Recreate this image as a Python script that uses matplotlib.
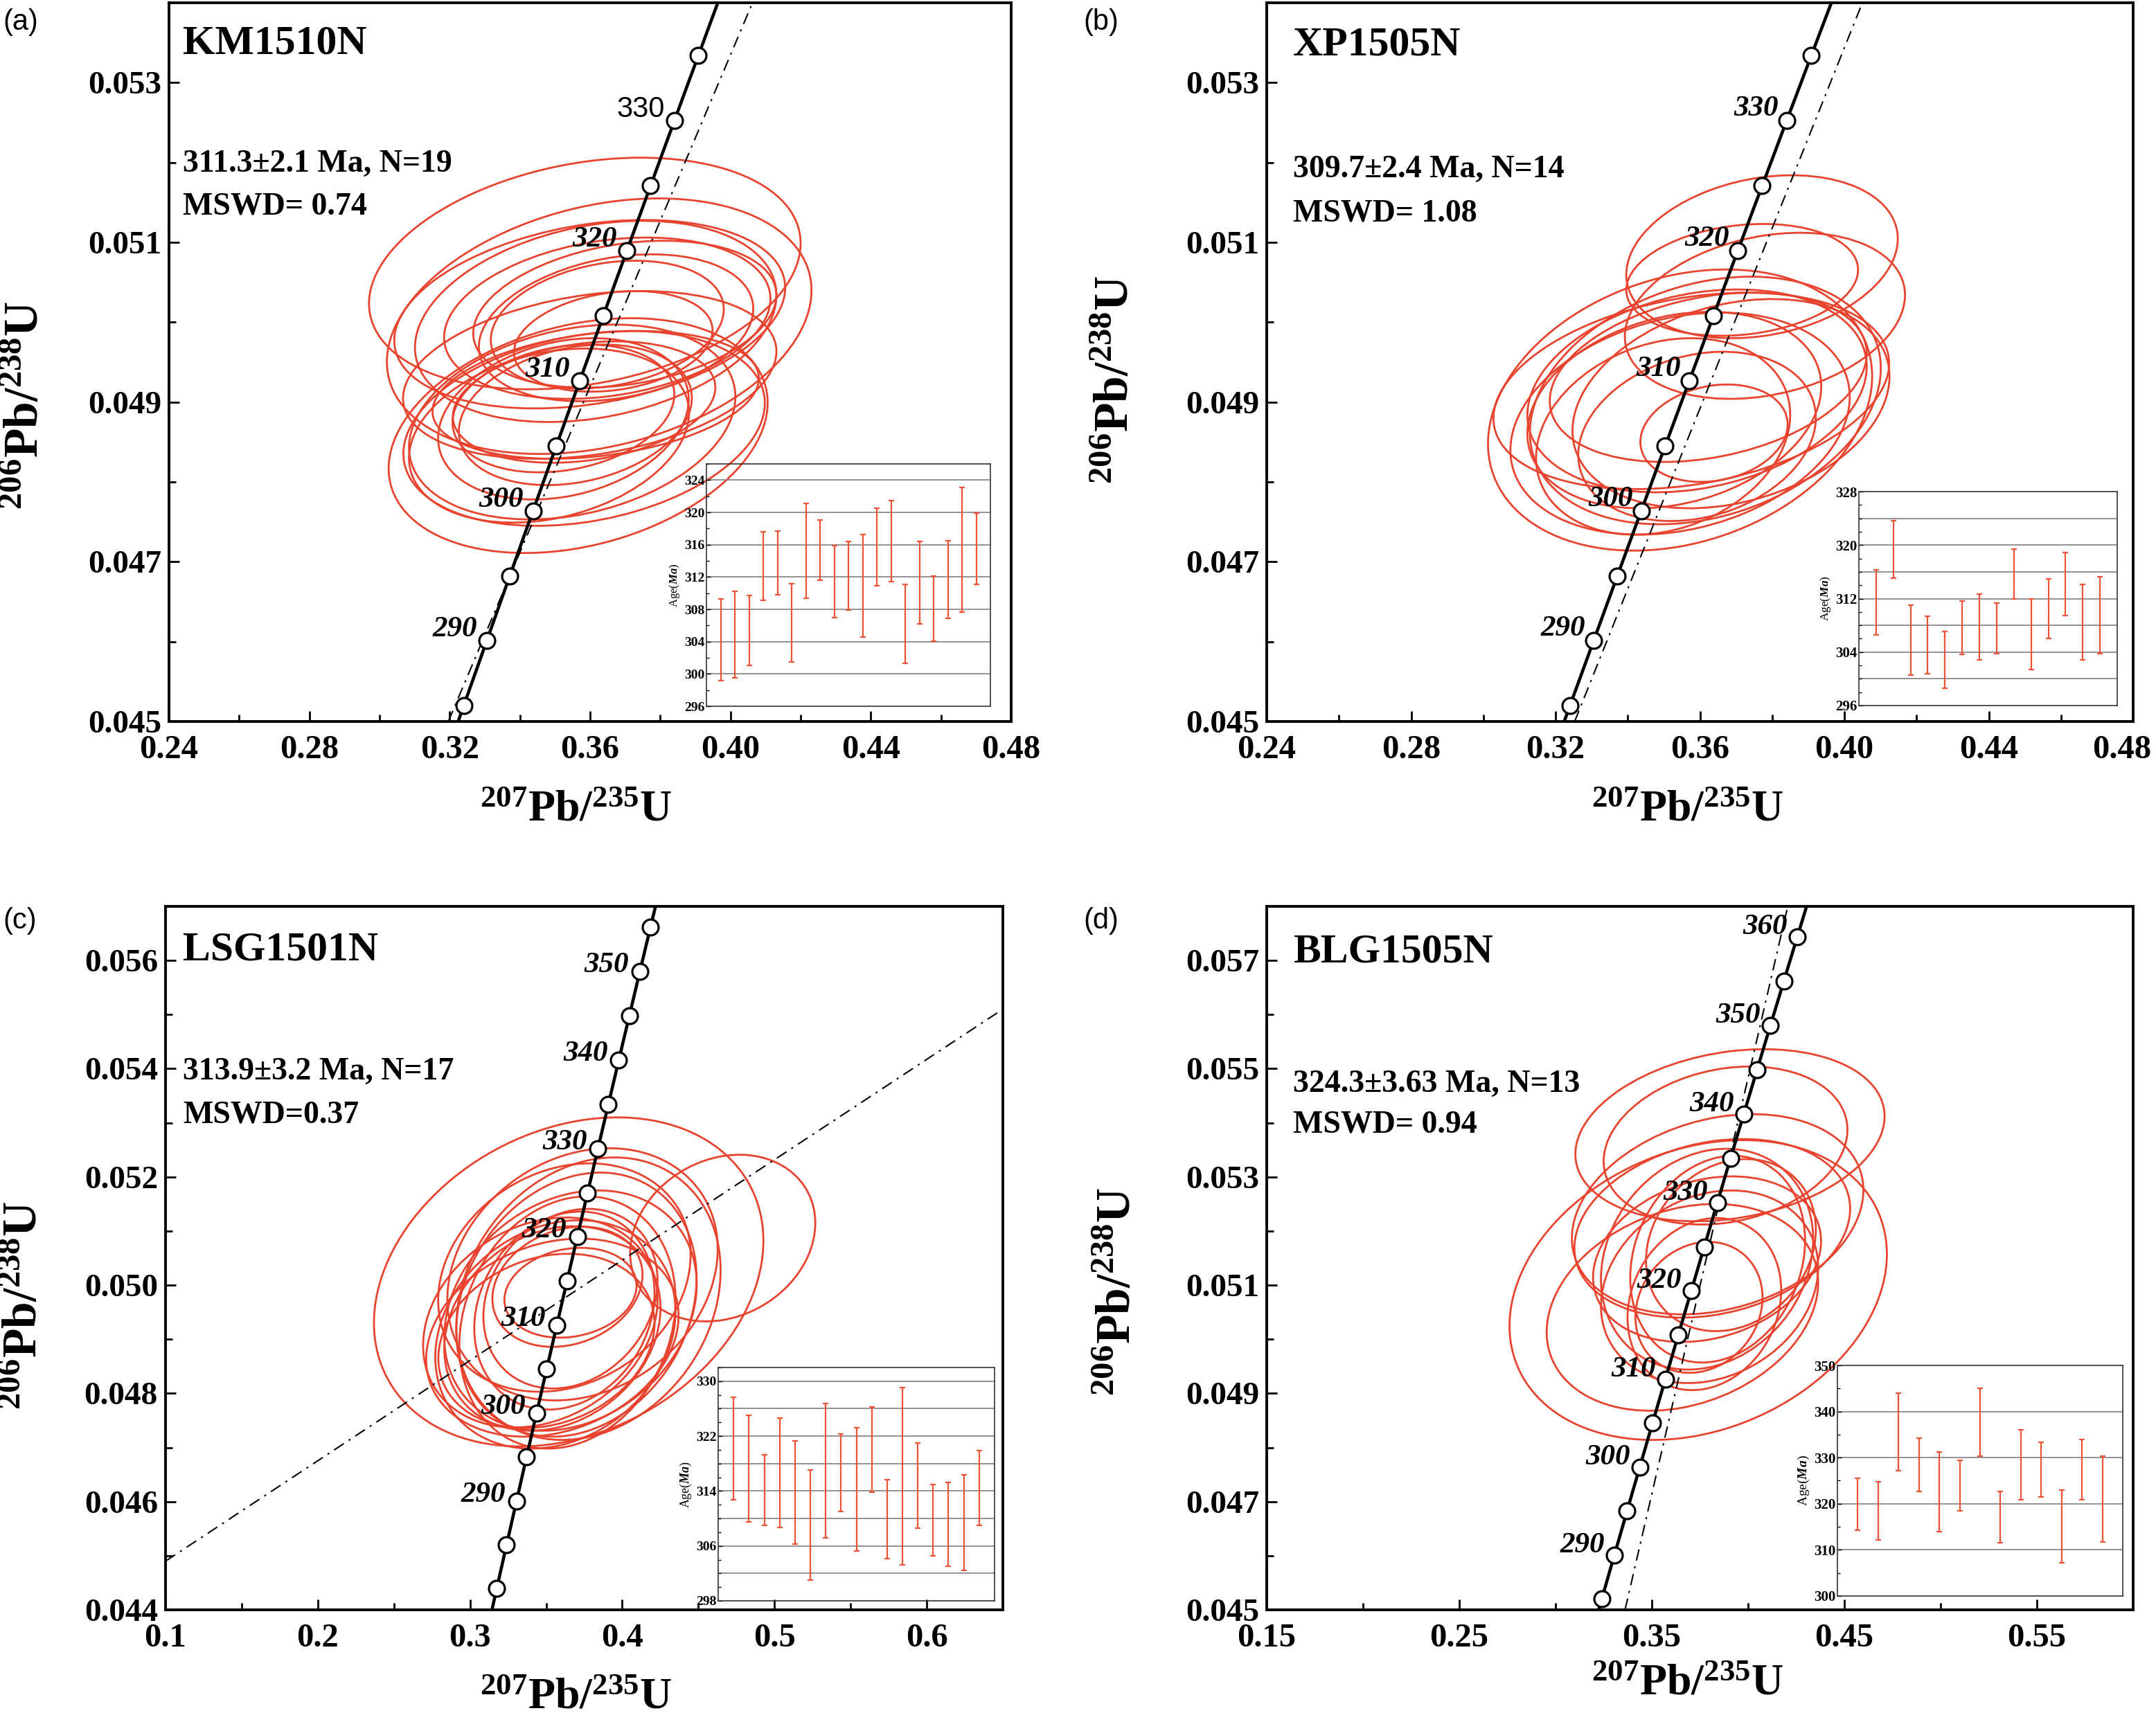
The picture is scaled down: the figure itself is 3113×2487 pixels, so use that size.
import numpy as np
import matplotlib
matplotlib.use('Agg')
import matplotlib.pyplot as plt
from matplotlib.patches import Circle
from matplotlib.transforms import Affine2D, ScaledTranslation
from matplotlib.ticker import MultipleLocator, FixedLocator, FormatStrFormatter, NullLocator

plt.rcParams['font.family'] = ['Liberation Serif', 'DejaVu Serif']
plt.rcParams['font.weight'] = 'bold'
plt.rcParams['mathtext.fontset'] = 'custom'
plt.rcParams['mathtext.rm'] = 'Liberation Serif:bold'
plt.rcParams['mathtext.bf'] = 'Liberation Serif:bold'
plt.rcParams['mathtext.it'] = 'Liberation Serif:italic:bold'

# ---------------- data ----------------
L238 = 1.55125e-10
L235 = 9.8485e-10
marker_ages = list(range(270, 375, 5))

names = ['KM1510N', 'XP1505N', 'LSG1501N', 'BLG1505N']
age_texts = ['311.3±2.1 Ma, N=19', '309.7±2.4 Ma, N=14', '313.9±3.2 Ma, N=17', '324.3±3.63 Ma, N=13']
mswd_texts = ['MSWD= 0.74', 'MSWD= 1.08', 'MSWD=0.37', 'MSWD= 0.94']
panel_tags = ['(a)', '(b)', '(c)', '(d)']

# axis ticks
ab_xticks = [0.24, 0.28, 0.32, 0.36, 0.40, 0.44, 0.48]
ab_yticks = [0.045, 0.047, 0.049, 0.051, 0.053]
c_xticks = [0.1, 0.2, 0.3, 0.4, 0.5, 0.6]
c_yticks = [0.044, 0.046, 0.048, 0.050, 0.052, 0.054, 0.056]
d_xticks = [0.15, 0.25, 0.35, 0.45, 0.55]
d_yticks = [0.045, 0.047, 0.049, 0.051, 0.053, 0.055, 0.057]

# concordia labels
a_lab = [290, 300, 310, 320, 330]
b_lab = [290, 300, 310, 320, 330]
c_lab = [290, 300, 310, 320, 330, 340, 350]
d_lab = [290, 300, 310, 320, 330, 340, 350, 360]
a_plain = [330]

# discordia (dash-dot) end points
a_dd_x = [0.3196, 0.4063]; a_dd_y = [0.045, 0.054]
b_dd_x = [0.3253, 0.4050]; b_dd_y = [0.045, 0.054]
c_dd_x = [0.10, 0.65];     c_dd_y = [0.0449, 0.0551]
d_dd_x = [0.3361, 0.4206]; d_dd_y = [0.045, 0.058]

# error ellipses: centre, half extents, correlation
a_cx = [0.3585, 0.3626, 0.3616, 0.3649, 0.3674, 0.3649, 0.3666, 0.3599, 0.3699, 0.3566,
        0.3583, 0.3549, 0.3524, 0.3558, 0.3524, 0.3616, 0.3583, 0.3483, 0.3599]
a_cy = [0.05061, 0.04995, 0.05001, 0.05005, 0.04993, 0.04997, 0.04976, 0.05010, 0.05010, 0.04858,
        0.04867, 0.04875, 0.04879, 0.04884, 0.04892, 0.04909, 0.04900, 0.04858, 0.04934]
a_sx = [0.0615, 0.0605, 0.0515, 0.0465, 0.0391, 0.0332, 0.0283, 0.0557, 0.0432, 0.0540,
        0.0515, 0.0465, 0.0357, 0.0332, 0.0316, 0.0465, 0.0374, 0.0399, 0.0532]
a_sy = [0.00145, 0.00160, 0.00126, 0.00101, 0.00092, 0.00080, 0.00063, 0.00118, 0.00092, 0.00147,
        0.00122, 0.00122, 0.00101, 0.00088, 0.00080, 0.00080, 0.00076, 0.00109, 0.00105]
a_rho = [0.26, 0.28, 0.26, 0.24, 0.26, 0.24, 0.22, 0.28, 0.26, 0.28,
         0.26, 0.26, 0.24, 0.24, 0.22, 0.26, 0.24, 0.26, 0.28]

b_cx = [0.3772, 0.3717, 0.3780, 0.3545, 0.3615, 0.3592, 0.3623, 0.3529, 0.3686, 0.3592,
        0.3639, 0.3545, 0.3576, 0.3498]
b_cy = [0.05082, 0.05053, 0.05008, 0.04890, 0.04902, 0.04914, 0.04931, 0.04890, 0.04898, 0.04857,
        0.04861, 0.04873, 0.04914, 0.04857]
b_sx = [0.0376, 0.0321, 0.0388, 0.0532, 0.0486, 0.0470, 0.0439, 0.0407, 0.0439, 0.0329,
        0.0204, 0.0470, 0.0548, 0.0352]
b_sy = [0.00102, 0.00070, 0.00104, 0.00176, 0.00155, 0.00127, 0.00106, 0.00123, 0.00131, 0.00106,
        0.00061, 0.00139, 0.00123, 0.00123]
b_rho = [0.22, 0.18, 0.25, 0.24, 0.26, 0.24, 0.28, 0.24, 0.26, 0.22, 0.18, 0.24, 0.28, 0.22]

c_cx = [0.3648, 0.4660, 0.3778, 0.3699, 0.3660, 0.3640, 0.3561, 0.3541, 0.3620, 0.3660,
        0.3640, 0.3660, 0.3541, 0.3502, 0.3620, 0.3739, 0.3462]
c_cy = [0.05006, 0.05087, 0.04975, 0.04964, 0.04953, 0.04931, 0.04909, 0.04920, 0.04953, 0.04975,
        0.04997, 0.04986, 0.04903, 0.04897, 0.05014, 0.05020, 0.04931]
c_sx = [0.1279, 0.0608, 0.0868, 0.0789, 0.0829, 0.0710, 0.0789, 0.0710, 0.0592, 0.0572,
        0.0493, 0.0434, 0.0829, 0.0710, 0.0829, 0.0888, 0.0770]
c_sy = [0.00304, 0.00154, 0.00261, 0.00244, 0.00222, 0.00233, 0.00211, 0.00189, 0.00183, 0.00166,
        0.00111, 0.00083, 0.00183, 0.00161, 0.00211, 0.00233, 0.00194]
c_rho = [0.25, 0.18, 0.20, 0.20, 0.22, 0.18, 0.20, 0.20, 0.18, 0.20, 0.20, 0.16, 0.22, 0.20, 0.20, 0.20, 0.22]

d_cx = [0.3906, 0.3883, 0.3842, 0.3741, 0.3659, 0.3814, 0.3787, 0.3842, 0.3773, 0.3745,
        0.3800, 0.3911, 0.3787]
d_cy = [0.05377, 0.05358, 0.05231, 0.05091, 0.05059, 0.05205, 0.05148, 0.05148, 0.05065, 0.05059,
        0.05097, 0.05174, 0.05148]
d_sx = [0.0803, 0.0633, 0.0757, 0.0980, 0.0705, 0.0716, 0.0551, 0.0454, 0.0399, 0.0330,
        0.0564, 0.0441, 0.0592]
d_sy = [0.00159, 0.00146, 0.00185, 0.00277, 0.00191, 0.00165, 0.00204, 0.00191, 0.00159, 0.00121,
        0.00178, 0.00159, 0.00153]
d_rho = [0.22, 0.20, 0.24, 0.24, 0.24, 0.22, 0.18, 0.18, 0.16, 0.15, 0.20, 0.18, 0.22]

# weighted-mean inset: upper / lower ages (Ma)
a_hi = [309.3, 310.2, 309.7, 317.6, 317.7, 311.2, 321.1, 319.1, 315.9, 316.4,
        317.3, 320.5, 321.5, 311.1, 316.4, 312.1, 316.5, 323.1, 319.9]
a_lo = [299.2, 299.5, 301.1, 309.1, 309.8, 301.5, 309.4, 311.6, 307.0, 307.9,
        304.6, 310.9, 311.4, 301.3, 306.2, 304.1, 306.9, 307.7, 311.1]
b_hi = [316.3, 323.7, 311.0, 309.4, 307.1, 311.6, 312.7, 311.3, 319.4, 312.0, 315.0, 318.9, 314.1, 315.3]
b_lo = [306.6, 315.1, 300.6, 300.8, 298.6, 303.7, 302.8, 303.8, 311.9, 301.4, 306.0, 309.5, 302.8, 303.8]
c_hi = [327.7, 325.0, 319.3, 324.6, 321.3, 317.1, 326.8, 322.3, 323.2, 326.2,
        315.7, 329.1, 321.0, 314.9, 315.3, 316.4, 319.9]
c_lo = [312.7, 309.5, 309.0, 308.7, 306.3, 301.0, 307.2, 311.0, 305.3, 313.8,
        304.2, 303.2, 308.6, 304.6, 303.0, 302.4, 309.0]
d_hi = [325.5, 324.7, 344.0, 334.3, 331.3, 329.5, 345.0, 322.6, 336.1, 333.3, 322.9, 334.0, 330.3]
d_lo = [314.2, 312.2, 327.2, 322.7, 313.9, 318.4, 330.3, 311.5, 320.8, 321.4, 307.2, 320.8, 311.7]

# ---------------- figure ----------------
W, H = 3113, 2487
DPI = 100
fig = plt.figure(figsize=(W / DPI, H / DPI), dpi=DPI)
fig.patch.set_facecolor('white')
RED = '#e8432e'
RED2 = '#ee5236'


def rect(l, r, t, b):
    return [l / W, 1 - b / H, (r - l) / W, (b - t) / H]


def fxy(x, y):
    return x / W, 1 - y / H


def conc(ages):
    t = np.asarray(ages, float) * 1e6
    return np.exp(L235 * t) - 1, np.exp(L238 * t) - 1


def main_panel(box, xlim, ylim, xticks, xmin, yticks, ymin, xfmt, cx, cy, sx, sy, rho,
               ddx, ddy, labs, lab_off, plain=()):
    ax = fig.add_axes(rect(*box))
    for x0, y0, a, b, r in zip(cx, cy, sx, sy, rho):
        m = np.array([[a, 0, x0], [b * r, b * np.sqrt(1 - r * r), y0], [0, 0, 1]])
        tr = Affine2D(m) + ax.transData
        ax.add_patch(Circle((0, 0), 1, transform=tr, fill=False, ec=RED, lw=2.0, zorder=2))
    ax.plot(ddx, ddy, color='black', lw=1.5, dashes=(8, 4, 1.5, 4), zorder=3)
    tt = np.linspace(240, 400, 400)
    px, py = conc(tt)
    ax.plot(px, py, color='black', lw=3.3, zorder=4, solid_capstyle='butt')
    mx, my = conc(marker_ages)
    ax.plot(mx, my, 'o', ms=16.5, mfc='white', mec='black', mew=2.3, zorder=5)
    lx, ly = conc(labs)
    for age, x, y in zip(labs, lx, ly):
        if age in plain:
            kw = dict(fontfamily='Liberation Sans', fontweight='normal', fontstyle='normal', fontsize=30)
        else:
            kw = dict(fontweight='bold', fontstyle='italic', fontsize=31)
        ax.annotate(str(age), xy=(x, y), xytext=lab_off, textcoords='offset pixels',
                    ha='right', va='center', zorder=6, **kw)
    ax.set_xlim(*xlim)
    ax.set_ylim(*ylim)
    ax.xaxis.set_major_locator(FixedLocator(xticks))
    ax.xaxis.set_minor_locator(MultipleLocator(xmin))
    ax.yaxis.set_major_locator(FixedLocator(yticks))
    ax.yaxis.set_minor_locator(MultipleLocator(ymin))
    ax.xaxis.set_major_formatter(FormatStrFormatter(xfmt))
    ax.yaxis.set_major_formatter(FormatStrFormatter('%.3f'))
    ax.tick_params(which='both', direction='in', width=2, top=False, right=False)
    ax.tick_params(which='major', length=11)
    ax.tick_params(which='minor', length=7)
    ax.tick_params(axis='x', labelsize=35, pad=14)
    ax.tick_params(axis='y', labelsize=34, pad=8)
    for s in ax.spines.values():
        s.set_linewidth(2.8)
    return ax


def inset(box, hi, lo, ylim, major, grid, minor, labsize, ylsize):
    ins = fig.add_axes(rect(*box))
    ins.set_facecolor('none')
    hi = np.asarray(hi); lo = np.asarray(lo)
    x = np.arange(1, len(hi) + 1)
    for g in grid:
        ins.axhline(g, color='#8a8a8a', lw=1.3, zorder=1)
    ins.errorbar(x, (hi + lo) / 2, yerr=(hi - lo) / 2, fmt='none', ecolor=RED2,
                 elinewidth=1.6, capsize=3, capthick=1.6, zorder=3)
    ins.set_xlim(0, len(hi) + 1)
    ins.set_ylim(*ylim)
    ins.xaxis.set_major_locator(NullLocator())
    ins.yaxis.set_major_locator(FixedLocator(major))
    ins.yaxis.set_minor_locator(MultipleLocator(minor))
    ins.tick_params(axis='y', which='both', direction='in', labelsize=labsize, pad=2, width=1)
    ins.tick_params(axis='y', which='major', length=4)
    ins.tick_params(axis='y', which='minor', length=3)
    for s in ins.spines.values():
        s.set_linewidth(1.2)
        s.set_color('#333333')
    ins.set_ylabel(r'Age($\mathit{Ma}$)', fontsize=ylsize, labelpad=3)
    return ins


axA = main_panel((244, 1460, 4, 1042), (0.24, 0.48), (0.045, 0.054), ab_xticks, 0.02, ab_yticks, 0.001, '%.2f',
                 a_cx, a_cy, a_sx, a_sy, a_rho, a_dd_x, a_dd_y, a_lab, (-14, 16), a_plain)
axB = main_panel((1829, 3080, 4, 1042), (0.24, 0.48), (0.045, 0.054), ab_xticks, 0.02, ab_yticks, 0.001, '%.2f',
                 b_cx, b_cy, b_sx, b_sy, b_rho, b_dd_x, b_dd_y, b_lab, (-12, 17))
axC = main_panel((239, 1448, 1309, 2325), (0.10, 0.65), (0.044, 0.057), c_xticks, 0.05, c_yticks, 0.001, '%.1f',
                 c_cx, c_cy, c_sx, c_sy, c_rho, c_dd_x, c_dd_y, c_lab, (-16, 9))
axD = main_panel((1829, 3080, 1309, 2325), (0.15, 0.60), (0.045, 0.058), d_xticks, 0.05, d_yticks, 0.001, '%.2f',
                 d_cx, d_cy, d_sx, d_sy, d_rho, d_dd_x, d_dd_y, d_lab, (-14, 14))

# keep the last x tick label of panel (b) inside the figure, as in the original
fig.canvas.draw()
lbls = axB.get_xticklabels()
lbls[-1].set_transform(lbls[-1].get_transform() + ScaledTranslation(-16 / DPI, 0, fig.dpi_scale_trans))

inset((1020, 1430, 670, 1020), a_hi, a_lo, (296, 326), np.arange(296, 326, 4), np.arange(300, 326, 4), 2, 14, 12)
inset((2684, 3057, 710, 1019), b_hi, b_lo, (296, 328), np.arange(296, 329, 8), np.arange(300, 328, 4), 2, 15, 12.5)
inset((1037, 1436, 1975, 2312), c_hi, c_lo, (298, 332), np.arange(298, 331, 8), np.arange(302, 332, 4), 2, 14, 13)
inset((2653, 3065, 1972, 2305), d_hi, d_lo, (300, 350), np.arange(300, 351, 10), np.arange(310, 350, 10), 5, 15, 14)

# texts
name_pos = [(264, 63), (1867, 65), (264, 1372), (1867, 1375)]
age_pos = [(264, 237), (1867, 245), (264, 1548), (1867, 1566)]
mswd_pos = [(264, 299), (1867, 308), (264, 1611), (1867, 1625)]
tag_pos = [(4, 32), (1564, 32), (4, 1330), (1564, 1330)]
xl_pos = [(831, 1171), (2436, 1171), (831, 2452), (2436, 2433)]
yl_pos = [(38, 585), (1612, 548), (36, 1885), (1615, 1865)]

for i in range(4):
    fig.text(*fxy(*name_pos[i]), names[i], fontsize=43, ha='left', va='center')
    fig.text(*fxy(*age_pos[i]), age_texts[i], fontsize=33, ha='left', va='center')
    fig.text(*fxy(*mswd_pos[i]), mswd_texts[i], fontsize=33, ha='left', va='center')
    fig.text(*fxy(*tag_pos[i]), panel_tags[i], fontsize=30, fontfamily='Liberation Sans',
             fontweight='normal', ha='left', va='center')
    fig.text(*fxy(*xl_pos[i]), r'$\mathbf{{}^{207}Pb/{}^{235}U}$', fontsize=46, ha='center', va='center')
    fig.text(*fxy(*yl_pos[i]), r'$\mathbf{{}^{206}Pb/{}^{238}U}$', fontsize=50, ha='center', va='center',
             rotation=90)

fig.savefig('out.png', dpi=DPI, facecolor='white')
